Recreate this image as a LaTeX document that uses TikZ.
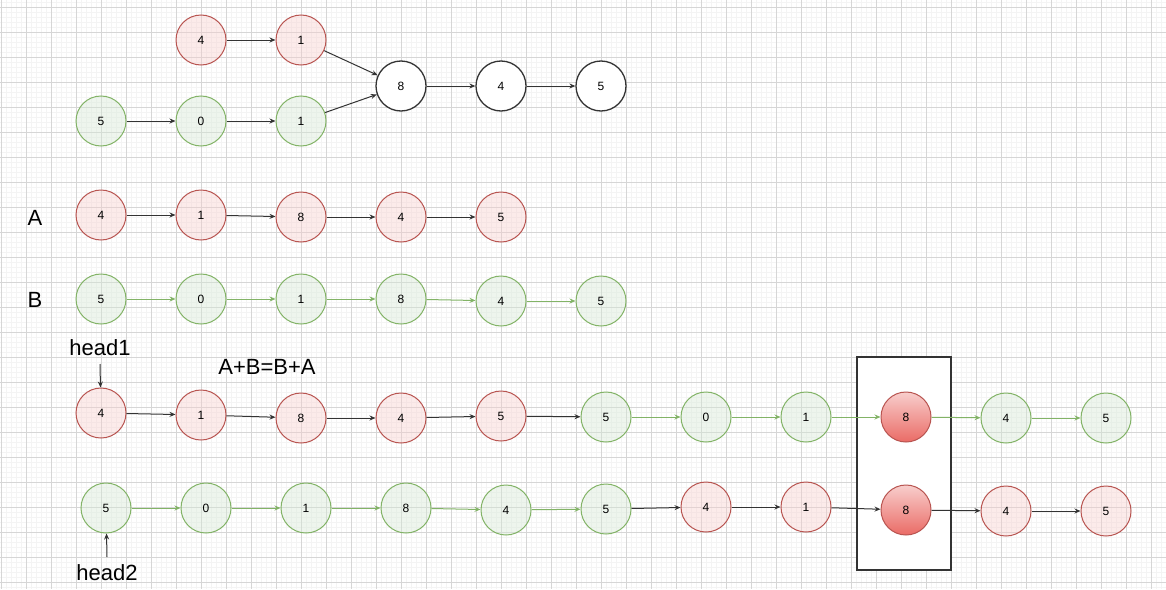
\documentclass[tikz,border=0pt]{standalone}
\usepackage{fontspec}
\setmainfont{Liberation Sans}
\usetikzlibrary{arrows.meta}
\definecolor{redline}{HTML}{B85450}
\definecolor{redfill}{HTML}{F8CECC}
\definecolor{greenline}{HTML}{82B366}
\definecolor{greenfill}{HTML}{D5E8D4}
\definecolor{hotfill}{HTML}{EA6B66}
\definecolor{majorgrid}{HTML}{D6D6D6}
\definecolor{minorgrid}{HTML}{F4F4F4}
\definecolor{inkline}{HTML}{333333}

\begin{document}
\begin{tikzpicture}[x=1pt,y=-1pt,
  num/.style={circle,minimum size=50pt,inner sep=0pt,line width=1pt,text=black,font=\fontsize{12}{14}\selectfont},
  rnode/.style={num,draw=redline,fill=redfill,fill opacity=0.4,text opacity=1},
  gnode/.style={num,draw=greenline,fill=greenfill,fill opacity=0.4,text opacity=1},
  knode/.style={num,draw=inkline,line width=1.3pt,fill=white},
  hnode/.style={num,draw=redline,top color=redfill,bottom color=hotfill},
  bigtext/.style={font=\fontsize{22}{26}\selectfont},
  karrow/.style={-{Stealth[length=6pt,width=5pt]},draw=inkline,line width=1pt},
  garrow/.style={-{Stealth[length=6pt,width=5pt]},draw=greenline,line width=1pt}]
\useasboundingbox (0,0) rectangle (1166,589);
\fill[white] (0,0) rectangle (1166,589);
% background grid
\foreach \gx in {1,6,...,1166} \draw[minorgrid,line width=0.8pt] (\gx,0) -- (\gx,589);
\foreach \gy in {2,7,...,589} \draw[minorgrid,line width=0.8pt] (0,\gy) -- (1166,\gy);
\foreach \gx in {1,26,...,1166} \draw[majorgrid,line width=0.8pt] (\gx,0) -- (\gx,589);
\foreach \gy in {7,32,...,589} \draw[majorgrid,line width=0.8pt] (0,\gy) -- (1166,\gy);

% the two lists meeting at 8
\node[rnode] (t4) at (201,40) {4};
\node[rnode] (t1) at (301,40) {1};
\node[gnode] (s5) at (101,121) {5};
\node[gnode] (s0) at (201,121) {0};
\node[gnode] (s1) at (301,121) {1};
\node[knode] (m8) at (401,86) {8};
\node[knode] (m4) at (501,86) {4};
\node[knode] (m5) at (601,86) {5};
\draw[karrow] (t4) -- (t1);
\draw[karrow] (t1) -- (m8);
\draw[karrow] (s5) -- (s0);
\draw[karrow] (s0) -- (s1);
\draw[karrow] (s1) -- (m8);
\draw[karrow] (m8) -- (m4);
\draw[karrow] (m4) -- (m5);

% list A
\node[bigtext] (la) at (35,218) {A};
\node[rnode] (a1) at (101,215) {4};
\node[rnode] (a2) at (201,215) {1};
\node[rnode] (a3) at (301,217) {8};
\node[rnode] (a4) at (401,217) {4};
\node[rnode] (a5) at (501,217) {5};
\draw[karrow] (a1) -- (a2);
\draw[karrow] (a2) -- (a3);
\draw[karrow] (a3) -- (a4);
\draw[karrow] (a4) -- (a5);

% list B
\node[bigtext] (lb) at (35,300) {B};
\node[gnode] (b1) at (101,299) {5};
\node[gnode] (b2) at (201,299) {0};
\node[gnode] (b3) at (301,299) {1};
\node[gnode] (b4) at (401,299) {8};
\node[gnode] (b5) at (501,301) {4};
\node[gnode] (b6) at (601,301) {5};
\draw[garrow] (b1) -- (b2);
\draw[garrow] (b2) -- (b3);
\draw[garrow] (b3) -- (b4);
\draw[garrow] (b4) -- (b5);
\draw[garrow] (b5) -- (b6);

% box round the meeting node
\draw[inkline,line width=1.3pt,fill=white] (857,357) rectangle (951,570);

% A+B
\node[bigtext] (h1) at (100,348) {head1};
\node[bigtext] (eq) at (267,367) {A+B=B+A};
\node[rnode] (p1) at (101,413) {4};
\node[rnode] (p2) at (201,415) {1};
\node[rnode] (p3) at (301,418) {8};
\node[rnode] (p4) at (401,418) {4};
\node[rnode] (p5) at (501,416) {5};
\node[gnode] (p6) at (606,417) {5};
\node[gnode] (p7) at (706,417) {0};
\node[gnode] (p8) at (806,417) {1};
\node[hnode] (p9) at (906,417) {8};
\node[gnode] (p10) at (1006,418) {4};
\node[gnode] (p11) at (1106,418) {5};
\coordinate (h1s) at (100,364);
\draw[karrow] (h1s) -- (p1);
\draw[karrow] (p1) -- (p2);
\draw[karrow] (p2) -- (p3);
\draw[karrow] (p3) -- (p4);
\draw[karrow] (p4) -- (p5);
\draw[karrow] (p5) -- (p6);
\draw[garrow] (p6) -- (p7);
\draw[garrow] (p7) -- (p8);
\draw[garrow] (p8) -- (p9);
\draw[garrow] (p9) -- (p10);
\draw[garrow] (p10) -- (p11);

% B+A
\node[gnode] (q1) at (106,508) {5};
\node[gnode] (q2) at (206,508) {0};
\node[gnode] (q3) at (306,508) {1};
\node[gnode] (q4) at (406,508) {8};
\node[gnode] (q5) at (506,510) {4};
\node[gnode] (q6) at (606,509) {5};
\node[rnode] (q7) at (706,507) {4};
\node[rnode] (q8) at (806,507) {1};
\node[hnode] (q9) at (906,510) {8};
\node[rnode] (q10) at (1006,511) {4};
\node[rnode] (q11) at (1106,511) {5};
\node[bigtext] (h2) at (107,573) {head2};
\coordinate (h2s) at (107,557);
\draw[karrow] (h2s) -- (q1);
\draw[garrow] (q1) -- (q2);
\draw[garrow] (q2) -- (q3);
\draw[garrow] (q3) -- (q4);
\draw[garrow] (q4) -- (q5);
\draw[garrow] (q5) -- (q6);
\draw[karrow] (q6) -- (q7);
\draw[karrow] (q7) -- (q8);
\draw[karrow] (q8) -- (q9);
\draw[karrow] (q9) -- (q10);
\draw[karrow] (q10) -- (q11);
\end{tikzpicture}
\end{document}
